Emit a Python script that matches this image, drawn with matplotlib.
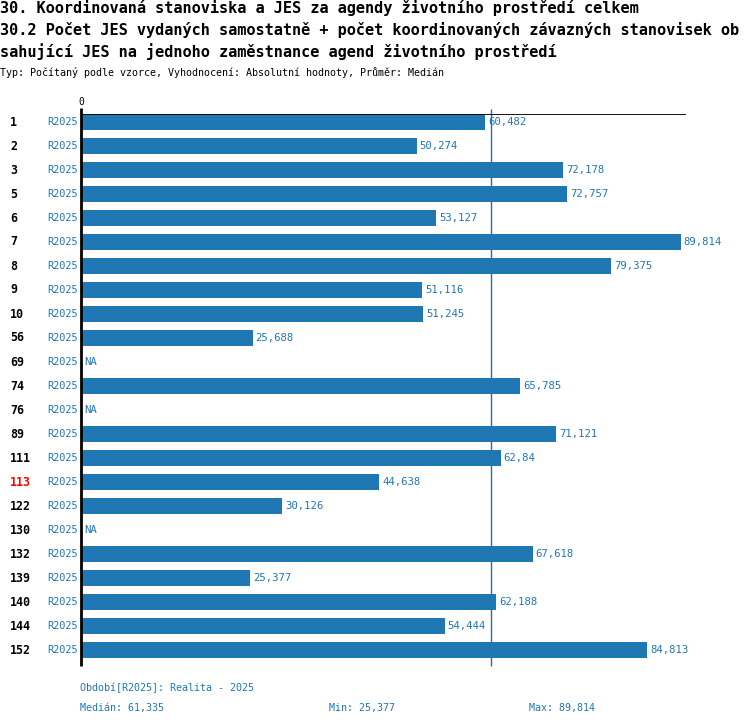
import numpy as np
import matplotlib.pyplot as plt

plt.rcParams['font.family'] = ['DejaVu Sans Mono']

rows = ['1', '2', '3', '5', '6', '7', '8', '9', '10', '56', '69', '74', '76', '89',
        '111', '113', '122', '130', '132', '139', '140', '144', '152']
labels = ['60,482', '50,274', '72,178', '72,757', '53,127', '89,814', '79,375', '51,116',
          '51,245', '25,688', 'NA', '65,785', 'NA', '71,121', '62,84', '44,638', '30,126',
          'NA', '67,618', '25,377', '62,188', '54,444', '84,813']
values = [np.nan if s == 'NA' else float(s.replace(',', '.')) for s in labels]
period = 'R2025'
highlight = '113'
median = 61.335
vmin = 25.377
vmax = 89.814

blue = '#1f77b4'
W, H = 750, 726
fig = plt.figure(figsize=(W / 100, H / 100), dpi=100)

# axes in pixel coordinates: x 81..686, y 114..666
ax = fig.add_axes([81 / W, 1 - 666 / H, (686 - 81) / W, (666 - 114) / H])
n = len(rows)
y = np.arange(n)
xmax = 90.6
ax.set_xlim(0, xmax)
ax.set_ylim(n - 1 + 16 / 24, -8 / 24)
for s in ax.spines.values():
    s.set_visible(False)
ax.set_xticks([])
ax.set_yticks([])

vals = np.nan_to_num(values)
ax.barh(y, vals, height=16 / 24, color=blue, zorder=2)
ax.axvline(median, color='#2a6fa3', lw=1, ymin=0, ymax=1.009, clip_on=False, zorder=1,
           solid_capstyle='butt')
ax.axvline(0, color='black', lw=2, ymin=0, ymax=1.011, clip_on=False, zorder=3,
           solid_capstyle='butt')
ax.axhline(-8 / 24, color='black', lw=1.3, zorder=3)

for i, (r, v, lab) in enumerate(zip(rows, values, labels)):
    yy = 1 - (122 + 24 * i) / H
    fig.text(10 / W, yy, r, fontsize=8.4, fontweight='bold',
             color='red' if r == highlight else 'black', va='center', ha='left')
    fig.text(78 / W, yy, period, fontsize=7.4, color=blue, va='center', ha='right')
    xv = 0 if np.isnan(v) else v
    ax.annotate(lab, (xv, i), xytext=(2.2, 0), textcoords='offset points',
                fontsize=7.7, color=blue, va='center', ha='left')

fig.text(81 / W, 1 - 102 / H, '0', fontsize=7, ha='center', va='center')

fig.text(0, 1 - 8 / H, '30. Koordinovaná stanoviska a JES za agendy životního prostředí celkem',
         fontsize=11, fontweight='bold', va='center')
fig.text(0, 1 - 30 / H, '30.2 Počet JES vydaných samostatně + počet koordinovaných závazných stanovisek ob',
         fontsize=11, fontweight='bold', va='center')
fig.text(0, 1 - 52 / H, 'sahující JES na jednoho zaměstnance agend životního prostředí',
         fontsize=11, fontweight='bold', va='center')
fig.text(0, 1 - 73 / H, 'Typ: Počítaný podle vzorce, Vyhodnocení: Absolutní hodnoty, Průměr: Medián',
         fontsize=7.2, va='center')

fig.text(80 / W, 1 - 688 / H, 'Období[R2025]: Realita - 2025', fontsize=7.2, color=blue, va='center')
fig.text(80 / W, 1 - 708 / H, 'Medián: ' + f'{median:.3f}'.replace('.', ','),
         fontsize=7.2, color=blue, va='center')
fig.text(329 / W, 1 - 708 / H, 'Min: ' + f'{vmin:.3f}'.replace('.', ','),
         fontsize=7.2, color=blue, va='center')
fig.text(529 / W, 1 - 708 / H, 'Max: ' + f'{vmax:.3f}'.replace('.', ','),
         fontsize=7.2, color=blue, va='center')

fig.savefig('out.png', dpi=100)
